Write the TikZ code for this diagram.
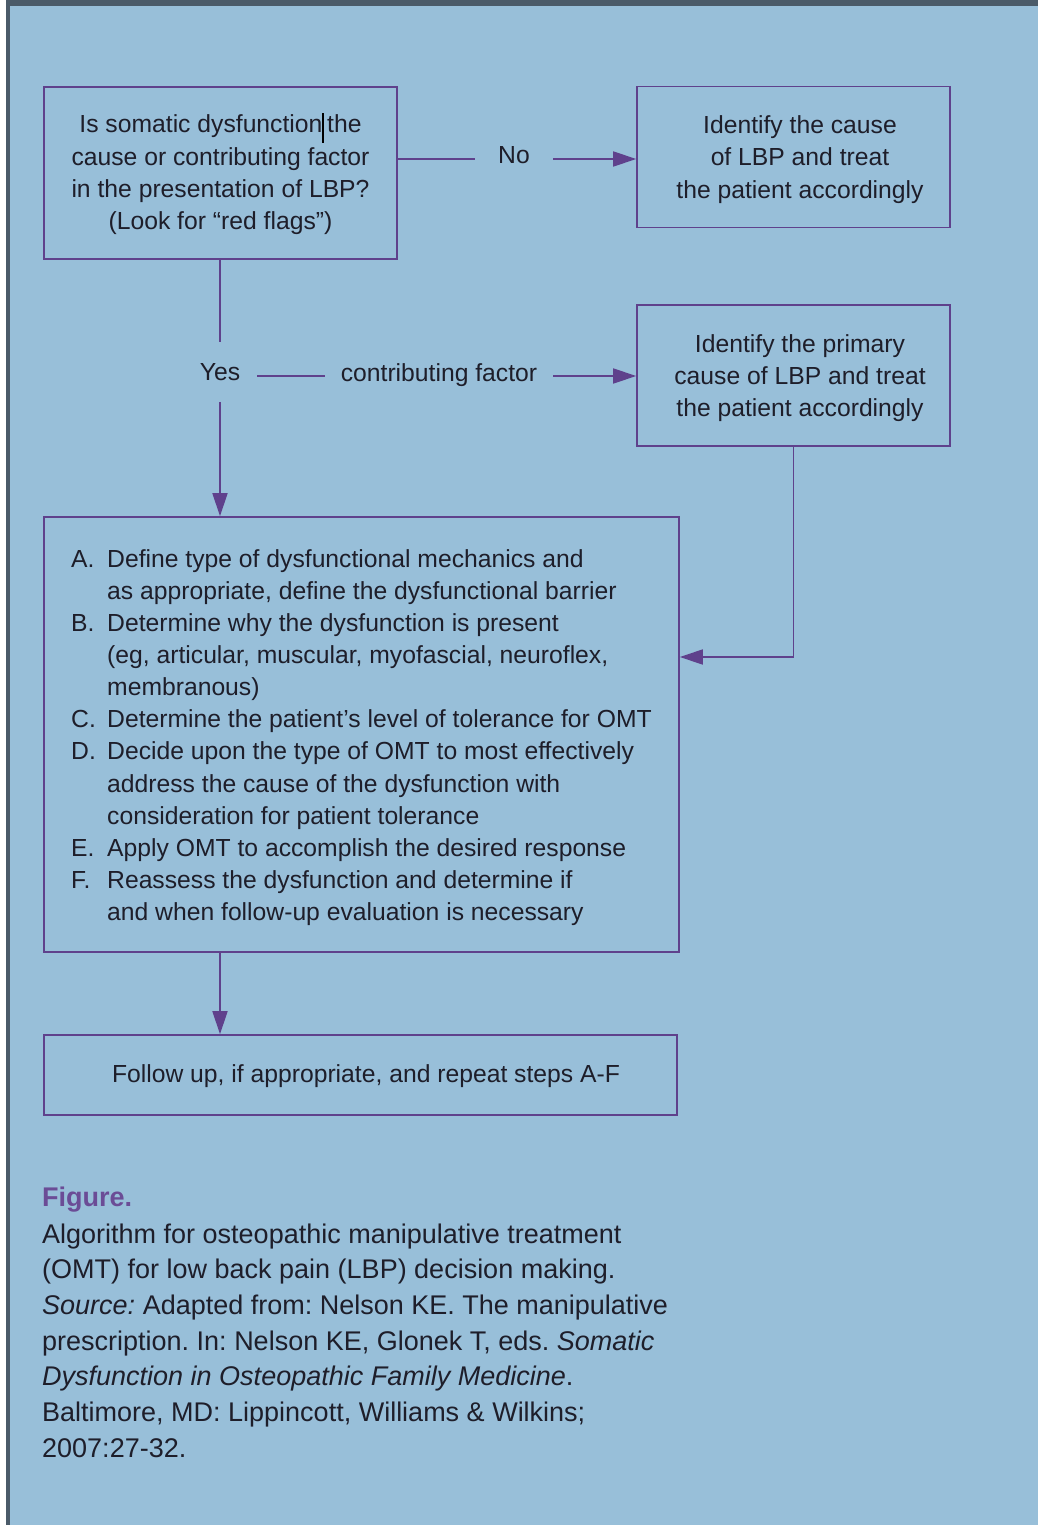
\documentclass[tikz,border=0pt]{standalone}
\usepackage{fontspec}
\setmainfont{Liberation Sans}
\usetikzlibrary{arrows.meta}
\definecolor{bg}{HTML}{98BFD9}
\definecolor{ln}{HTML}{5F418C}
\definecolor{fr}{HTML}{4B5B69}
\definecolor{tx}{HTML}{1E1E2A}
\definecolor{figc}{HTML}{6B4C96}
\frenchspacing
\begin{document}
\begin{tikzpicture}[x=1pt,y=-1pt,
  box/.style={draw=ln, line width=1.6pt, inner sep=0pt},
  boxtext/.style={inner sep=0pt, align=center, text=tx,
    font=\fontsize{24.7}{32.3}\selectfont},
  lab/.style={inner ysep=0pt, text=tx, font=\fontsize{24.7}{32.3}\selectfont,
    text height=18pt, text depth=8pt},
  conn/.style={draw=ln, line width=1.6pt},
  arr/.style={conn, -{Triangle[length=23pt,width=15pt]}},
  txt/.style={inner sep=0pt, text=tx, anchor=base west}]
% background and frame
\fill[white] (0,0) rectangle (1041,1525);
\fill[fr] (6,0) rectangle (1038,1525);
\fill[bg] (10,6) rectangle (1038,1525);
\useasboundingbox (0,0) rectangle (1041,1525);

% boxes
\node[box, minimum width=353pt, minimum height=172pt] (q) at (220.5,173) {};
\node[box, minimum width=313pt, minimum height=141pt] (b2) at (793.5,157) {};
\node[box, minimum width=313pt, minimum height=141pt] (b3) at (793.5,375.5) {};
\node[box, minimum width=635pt, minimum height=435pt] (b4) at (361.5,734.5) {};
\node[box, minimum width=633pt, minimum height=80pt] (b5) at (360.5,1075) {};

% box texts
\node[boxtext] (qt) at (220.5,175)
  {Is somatic dysfunction\smash{\color{black}\rule[-10pt]{1.3pt}{30pt}}\hspace{3.5pt}the\\
   cause or contributing factor\\in the presentation of LBP?\\(Look for “red flags”)};
\node[boxtext] (b2t) at (800,159.5)
  {Identify the cause\\of LBP and treat\\the patient accordingly};
\node[boxtext] (b3t) at (800,378)
  {Identify the primary\\cause of LBP and treat\\the patient accordingly};
\node[boxtext] (b5t) at (366,1076.5)
  {Follow up, if appropriate, and repeat steps A-F};

% list text in box 4
\node[txt, font=\fontsize{24.7}{32.15}\selectfont] (list) at (71,567) {%
\begin{tabular}[t]{@{}l@{}l@{}}
\makebox[36pt][l]{A.} & Define type of dysfunctional mechanics and\\
 & as appropriate, define the dysfunctional barrier\\
\makebox[36pt][l]{B.} & Determine why the dysfunction is present\\
 & (eg, articular, muscular, myofascial, neuroflex,\\
 & membranous)\\
\makebox[36pt][l]{C.} & Determine the patient’s level of tolerance for OMT\\
\makebox[36pt][l]{D.} & Decide upon the type of OMT to most effectively\\
 & address the cause of the dysfunction with\\
 & consideration for patient tolerance\\
\makebox[36pt][l]{E.} & Apply OMT to accomplish the desired response\\
\makebox[36pt][l]{F.} & Reassess the dysfunction and determine if\\
 & and when follow-up evaluation is necessary
\end{tabular}};

% labels
\node[lab, inner xsep=23.2pt] (no) at (514,159) {No};
\node[lab, inner xsep=16.7pt, inner ysep=17pt, text height=22pt, text depth=4pt] (yes) at (220,371.7) {Yes};
\node[lab, inner xsep=15.8pt] (cf) at (439,376) {contributing factor};

% connectors
\draw[conn] (q.east |- no.west) -- (no.west);
\draw[arr] (no.east) -- (no.east -| b2.west);
\draw[conn] (q.south -| yes.north) -- (yes.north);
\draw[arr] (yes.south) -- (yes.south |- b4.north);
\draw[conn] (yes.east |- cf.west) -- (cf.west);
\draw[arr] (cf.east) -- (cf.east -| b3.west);
\draw[arr] (b3.south) |- ([yshift=77.5pt]b4.east);
\draw[arr] (b4.south -| yes.south) -- (b5.north -| yes.south);

% caption
\node[txt, text=figc, font=\fontsize{27}{36}\selectfont\bfseries] (figlab) at (42,1206) {Figure.};
\node[txt, font=\fontsize{27}{35.7}\selectfont] (cap) at (42,1243) {%
\begin{tabular}[t]{@{}l@{}}
Algorithm for osteopathic manipulative treatment\\
(OMT) for low back pain (LBP) decision making.\\
\textit{Source:} Adapted from: Nelson KE. The manipulative\\
prescription. In: Nelson KE, Glonek T, eds. \textit{Somatic}\\
\textit{Dysfunction in Osteopathic Family Medicine}.\\
Baltimore, MD: Lippincott, Williams \& Wilkins;\\
2007:27-32.
\end{tabular}};
\end{tikzpicture}
\end{document}
